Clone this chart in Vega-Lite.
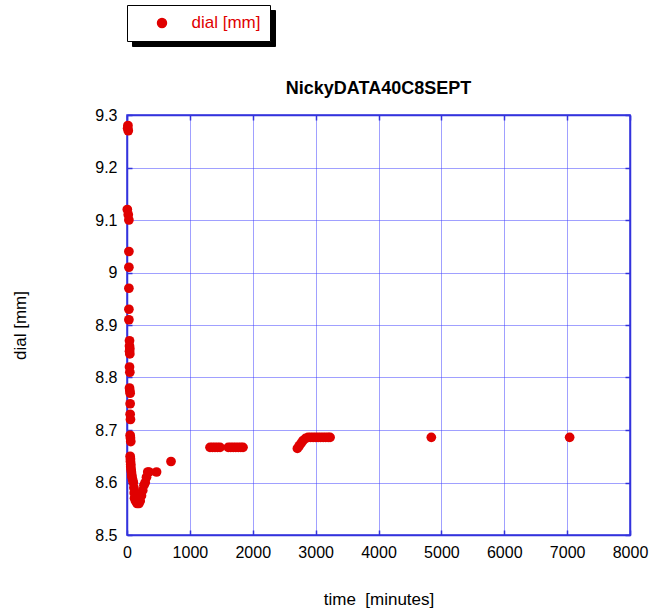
{
  "$schema": "https://vega.github.io/schema/vega-lite/v6.json",
  "width": 503,
  "height": 420,
  "autosize": "none",
  "padding": {"left": 127, "top": 115, "right": 22, "bottom": 78},
  "background": "white",
  "title": {"text": "NickyDATA40C8SEPT", "font": "Liberation Sans", "fontSize": 18, "fontWeight": "bold", "color": "black", "anchor": "middle", "offset": 18, "dy": 111},
  "config": {"view": {"stroke": "#3333dd", "strokeWidth": 1.5}},
  "data": {"values": [
    {"time": 15, "dial": 9.28}, {"time": 20, "dial": 9.27}, {"time": 10, "dial": 9.275},
    {"time": 5, "dial": 9.12}, {"time": 20, "dial": 9.11}, {"time": 30, "dial": 9.10},
    {"time": 30, "dial": 9.04}, {"time": 30, "dial": 9.01}, {"time": 30, "dial": 8.97}, {"time": 30, "dial": 8.93}, {"time": 30, "dial": 8.91},
    {"time": 40, "dial": 8.87}, {"time": 40, "dial": 8.86}, {"time": 45, "dial": 8.855}, {"time": 40, "dial": 8.85}, {"time": 45, "dial": 8.845},
    {"time": 40, "dial": 8.82}, {"time": 45, "dial": 8.81},
    {"time": 40, "dial": 8.78}, {"time": 45, "dial": 8.775}, {"time": 50, "dial": 8.77},
    {"time": 50, "dial": 8.75},
    {"time": 50, "dial": 8.73}, {"time": 55, "dial": 8.72},
    {"time": 50, "dial": 8.69}, {"time": 55, "dial": 8.685}, {"time": 60, "dial": 8.678},
    {"time": 50, "dial": 8.65}, {"time": 55, "dial": 8.645}, {"time": 55, "dial": 8.64}, {"time": 60, "dial": 8.635}, {"time": 60, "dial": 8.63},
    {"time": 65, "dial": 8.625}, {"time": 70, "dial": 8.62}, {"time": 75, "dial": 8.615}, {"time": 80, "dial": 8.61}, {"time": 90, "dial": 8.605}, {"time": 100, "dial": 8.60},
    {"time": 110, "dial": 8.59}, {"time": 115, "dial": 8.58}, {"time": 120, "dial": 8.57}, {"time": 135, "dial": 8.565}, {"time": 160, "dial": 8.56}, {"time": 190, "dial": 8.56},
    {"time": 210, "dial": 8.565}, {"time": 230, "dial": 8.575}, {"time": 250, "dial": 8.585}, {"time": 270, "dial": 8.595}, {"time": 290, "dial": 8.60}, {"time": 310, "dial": 8.61},
    {"time": 330, "dial": 8.62}, {"time": 350, "dial": 8.62}, {"time": 470, "dial": 8.62}, {"time": 700, "dial": 8.64},
    {"time": 1320, "dial": 8.667}, {"time": 1360, "dial": 8.667}, {"time": 1400, "dial": 8.667}, {"time": 1440, "dial": 8.667}, {"time": 1480, "dial": 8.667},
    {"time": 1610, "dial": 8.667}, {"time": 1650, "dial": 8.667}, {"time": 1690, "dial": 8.667}, {"time": 1730, "dial": 8.667}, {"time": 1770, "dial": 8.667}, {"time": 1810, "dial": 8.667}, {"time": 1845, "dial": 8.667},
    {"time": 2710, "dial": 8.665}, {"time": 2740, "dial": 8.67}, {"time": 2770, "dial": 8.675}, {"time": 2800, "dial": 8.68}, {"time": 2840, "dial": 8.684},
    {"time": 2880, "dial": 8.686}, {"time": 2920, "dial": 8.686}, {"time": 2960, "dial": 8.686}, {"time": 3000, "dial": 8.686}, {"time": 3040, "dial": 8.686},
    {"time": 3080, "dial": 8.686}, {"time": 3120, "dial": 8.686}, {"time": 3160, "dial": 8.686}, {"time": 3200, "dial": 8.686}, {"time": 3230, "dial": 8.686},
    {"time": 4840, "dial": 8.686}, {"time": 7040, "dial": 8.686}
  ]},
  "layer": [
    {
      "mark": {"type": "point", "filled": true, "shape": "circle", "size": 95, "opacity": 1},
      "encoding": {
        "x": {"field": "time", "type": "quantitative",
          "scale": {"domain": [0, 8000], "nice": false, "zero": false},
          "axis": {"orient": "bottom", "values": [0, 1000, 2000, 3000, 4000, 5000, 6000, 7000, 8000], "format": "d",
            "title": "time\u00a0 [minutes]", "grid": true, "gridColor": "#4040ff", "gridDash": [1, 1], "gridWidth": 1,
            "domainColor": "#3333dd", "domainWidth": 1.5, "tickColor": "#3333dd", "tickSize": -5, "tickWidth": 1.5,
            "labelFont": "Liberation Sans", "labelFontSize": 16, "labelColor": "black", "labelPadding": 14, "labelFlush": false, "labelOverlap": false,
            "titleFont": "Liberation Sans", "titleFontSize": 17, "titleFontWeight": "normal", "titleColor": "black",
            "titleY": 64, "titleBaseline": "middle"}},
        "y": {"field": "dial", "type": "quantitative",
          "scale": {"domain": [8.5, 9.3], "nice": false, "zero": false},
          "axis": {"orient": "left", "values": [8.5, 8.6, 8.7, 8.8, 8.9, 9.0, 9.1, 9.2, 9.3], "format": "~g",
            "title": "dial [mm]", "grid": true, "gridColor": "#4040ff", "gridDash": [1, 1], "gridWidth": 1,
            "domainColor": "#3333dd", "domainWidth": 1.5, "tickColor": "#3333dd", "tickSize": -5, "tickWidth": 1.5,
            "labelFont": "Liberation Sans", "labelFontSize": 16, "labelColor": "black", "labelPadding": 15, "labelFlush": false, "labelOverlap": false,
            "titleFont": "Liberation Sans", "titleFontSize": 17, "titleFontWeight": "normal", "titleColor": "black",
            "titleX": -107, "titleY": 210, "titleAngle": 270, "titleBaseline": "middle", "titleAlign": "center"}},
        "color": {"datum": "dial [mm]", "scale": {"range": ["#e00000"]},
          "legend": {"orient": "none", "legendX": 0, "legendY": -110, "title": null,
            "fillColor": "white", "strokeColor": "black", "padding": 9.5, "symbolOffset": 17, "labelOffset": 21,
            "labelFont": "Liberation Sans", "labelFontSize": 17, "labelColor": "#e00000",
            "symbolSize": 80, "symbolType": "circle", "symbolFillColor": "#e00000", "symbolStrokeColor": "#e00000", "zindex": 2}}
      }
    },
    {
      "mark": {"type": "point", "filled": true, "shape": "circle", "size": 75, "opacity": 0},
      "encoding": {
        "x": {"field": "time", "type": "quantitative",
          "scale": {"domain": [0, 8000], "nice": false, "zero": false},
          "axis": {"orient": "top", "values": [0, 1000, 2000, 3000, 4000, 5000, 6000, 7000, 8000], "labels": false, "title": null, "grid": false,
            "domainColor": "#3333dd", "domainWidth": 1.5, "tickColor": "#3333dd", "tickSize": -5, "tickWidth": 1.5}},
        "y": {"field": "dial", "type": "quantitative",
          "scale": {"domain": [8.5, 9.3], "nice": false, "zero": false},
          "axis": {"orient": "right", "values": [8.5, 8.6, 8.7, 8.8, 8.9, 9.0, 9.1, 9.2, 9.3], "labels": false, "title": null, "grid": false,
            "domainColor": "#3333dd", "domainWidth": 1.5, "tickColor": "#3333dd", "tickSize": -5, "tickWidth": 1.5}},
        "shape": {"datum": "shadow", "scale": {"range": ["circle"]},
          "legend": {"orient": "none", "legendX": 5, "legendY": -105, "title": null, "labelExpr": "'dial [mm]'",
            "fillColor": "black", "strokeColor": "black", "padding": 9.5, "symbolOffset": 17, "labelOffset": 21,
            "labelFont": "Liberation Sans", "labelFontSize": 17, "labelColor": "black",
            "symbolSize": 80, "symbolFillColor": "black", "symbolStrokeColor": "black", "zindex": 1}}
      }
    }
  ],
  "resolve": {"axis": {"x": "independent", "y": "independent"}}
}
